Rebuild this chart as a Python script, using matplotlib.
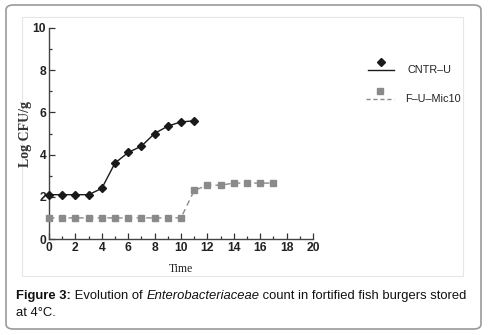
import matplotlib
matplotlib.use("Agg")
import matplotlib.pyplot as plt
from matplotlib.lines import Line2D
from matplotlib.patches import FancyBboxPatch, Rectangle
from matplotlib.ticker import MultipleLocator

# ── data ──────────────────────────────────────────────────────────────────────
cntr_time = [0, 1, 2, 3, 4, 5, 6, 7, 8, 9, 10, 11]
cntr_logcfu = [2.1, 2.1, 2.1, 2.1, 2.4, 3.6, 4.1, 4.4, 5.0, 5.35, 5.55, 5.6]

mic_time = [0, 1, 2, 3, 4, 5, 6, 7, 8, 9, 10, 11, 12, 13, 14, 15, 16, 17]
mic_logcfu = [1.0, 1.0, 1.0, 1.0, 1.0, 1.0, 1.0, 1.0, 1.0, 1.0, 1.0,
              2.3, 2.55, 2.55, 2.65, 2.65, 2.65, 2.65]

series_labels = ["CNTR\u2013U", "F\u2013U\u2013Mic10"]

W, H = 488, 335
SANS = "Liberation Sans"
SERIF = "Liberation Serif"
BLACK = "#1a1a1a"
GREY = "#8a8a8a"


def fx(px):
    return px / W


def fy(py):
    return 1 - py / H


fig = plt.figure(figsize=(W / 100, H / 100), dpi=100)

# outer rounded frame and inner picture frame
fig.add_artist(FancyBboxPatch((fx(6), fy(329)), fx(475), fy(5) - fy(329),
                              boxstyle="round,pad=0,rounding_size=0.015",
                              transform=fig.transFigure, fill=False,
                              edgecolor="#9a9a9a", linewidth=1.2))
fig.add_artist(Rectangle((fx(22), fy(276)), fx(441), fy(17) - fy(276),
                         transform=fig.transFigure, fill=False,
                         edgecolor="#e6e6e6", linewidth=0.8))

ax = fig.add_axes([fx(49), fy(239), fx(313) - fx(49), fy(28) - fy(239)])
ax.plot(cntr_time, cntr_logcfu, color=BLACK, lw=1.0, marker="D", ms=4.2,
        clip_on=False, zorder=3)
ax.plot(mic_time, mic_logcfu, color=GREY, lw=1.0, ls=(0, (4, 3)), marker="s",
        ms=3.8, clip_on=False, zorder=3)

ax.set_xlim(0, 20)
ax.set_ylim(0, 10)
ax.xaxis.set_major_locator(MultipleLocator(2))
ax.xaxis.set_minor_locator(MultipleLocator(1))
ax.yaxis.set_major_locator(MultipleLocator(2))
ax.yaxis.set_minor_locator(MultipleLocator(1))
ax.tick_params(which="both", direction="in", color="#333333", width=0.9)
ax.tick_params(which="major", length=4, labelsize=8.7, pad=2)
ax.tick_params(which="minor", length=2)
for lab in ax.get_xticklabels() + ax.get_yticklabels():
    lab.set_fontfamily(SANS)
    lab.set_fontweight("bold")
    lab.set_color("#222222")
for side in ["top", "right"]:
    ax.spines[side].set_visible(False)
for side in ["left", "bottom"]:
    ax.spines[side].set_color("#444444")
    ax.spines[side].set_linewidth(1.0)

fig.text(fx(26), fy(134), "Log CFU/g", family=SERIF, fontsize=10,
         fontweight="bold", rotation=90, ha="center", va="center",
         color="#333333")
fig.text(fx(181), fy(269), "Time", family=SERIF, fontsize=8.5,
         ha="center", va="center", color="#222222")

# legend: marker sits above the line sample
fig.add_artist(Line2D([fx(368), fx(394)], [fy(70), fy(70)], color=BLACK, lw=1.0))
fig.add_artist(Line2D([fx(381)], [fy(62)], color=BLACK, marker="D", ms=4.2, ls="none"))
fig.text(fx(407), fy(70), series_labels[0], family=SANS, fontsize=7.8,
         va="center", color="#222222")
fig.add_artist(Line2D([fx(366), fx(394)], [fy(99), fy(99)], color=GREY, lw=1.0,
                      ls=(0, (3, 2))))
fig.add_artist(Line2D([fx(380)], [fy(91)], color=GREY, marker="s", ms=3.8, ls="none"))
fig.text(fx(405), fy(99), series_labels[1], family=SANS, fontsize=7.8,
         va="center", color="#222222")

# caption with mixed styles
CAP = 9.4
t1 = fig.text(fx(16), fy(296), "Figure 3:", family=SANS, fontsize=CAP,
              fontweight="bold", va="center", color="#111111")
t2 = ax.annotate(" Evolution of ", xy=(1, 0), xycoords=t1, va="bottom",
                 family=SANS, fontsize=CAP, color="#111111", annotation_clip=False)
t3 = ax.annotate("Enterobacteriaceae", xy=(1, 0), xycoords=t2, va="bottom",
                 family=SANS, fontsize=CAP, style="italic", color="#111111",
                 annotation_clip=False)
ax.annotate(" count in fortified fish burgers stored", xy=(1, 0), xycoords=t3,
            va="bottom", family=SANS, fontsize=CAP, color="#111111",
            annotation_clip=False)
fig.text(fx(16), fy(313), "at 4\u00b0C.", family=SANS, fontsize=CAP,
         va="center", color="#111111")

fig.savefig("out.png", dpi=100)
